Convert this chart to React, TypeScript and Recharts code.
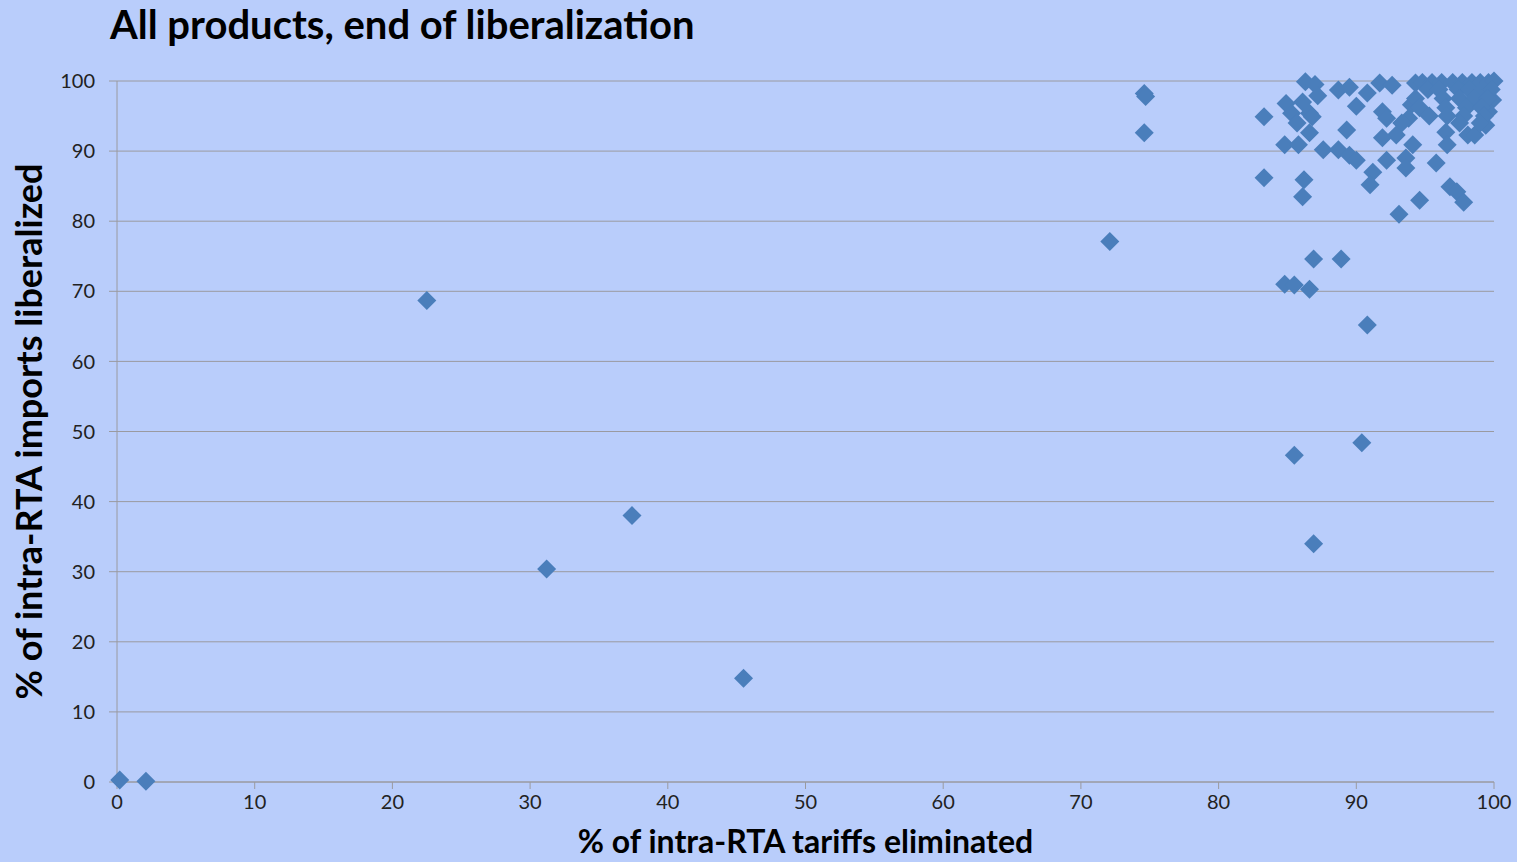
import { CartesianGrid, Scatter, ScatterChart, XAxis, YAxis } from "recharts";

// % of intra-RTA tariffs eliminated
const tariffsEliminated = [
  0.2, 2.1, 22.5, 31.2, 37.4, 45.5, 72.1, 74.6, 74.7, 74.6,
  83.3, 83.3, 84.8, 85.5, 86.6, 86.9, 88.9, 90.8, 90.4, 85.5, 86.9, 86.2, 86.1,
  86.3, 87.0, 84.9, 86.1, 87.2, 85.3, 85.7, 86.6, 86.8, 86.6, 84.8, 85.8,
  88.7, 89.5, 90.0, 89.3, 87.6, 88.7, 89.5, 90.0,
  91.7, 92.6, 90.8, 94.3, 91.9, 92.2, 94.0, 93.8, 93.3, 92.9, 91.9, 94.1,
  92.2, 93.6, 93.6, 95.8, 91.2, 91.0, 94.6, 96.8, 97.3, 97.8, 93.1,
  96.5, 96.6, 98.1, 98.6, 99.4, 99.9, 99.6,
  94.8, 95.5, 96.2, 97.0, 97.7, 98.4, 99.0, 99.6, 100,
  95.2, 96.0, 97.4, 98.2, 99.2, 99.8,
  94.3, 96.3, 97.5, 98.6, 99.5,
  94.6, 96.5, 98.0, 99.1,
  95.3, 96.6, 97.8, 99.3,
  97.5, 99.0,
];

// % of intra-RTA imports liberalized
const importsLiberalized = [
  0.3, 0.1, 68.7, 30.4, 38.0, 14.8, 77.1, 98.2, 97.8, 92.6,
  94.9, 86.2, 71.0, 70.9, 70.3, 74.6, 74.6, 65.2, 48.4, 46.6, 34.0, 85.9, 83.5,
  99.9, 99.5, 96.8, 97.0, 97.9, 95.4, 94.0, 95.4, 94.9, 92.6, 90.9, 90.9,
  98.7, 99.1, 96.4, 93.0, 90.2, 90.2, 89.4, 88.7,
  99.7, 99.4, 98.3, 99.7, 95.6, 94.7, 96.6, 94.7, 94.0, 92.3, 91.9, 90.9,
  88.7, 89.0, 87.6, 88.3, 87.0, 85.2, 83.0, 84.9, 84.2, 82.7, 81.0,
  92.7, 90.9, 92.3, 92.3, 93.7, 97.3, 95.6,
  99.8, 99.8, 99.8, 99.8, 99.8, 99.8, 99.8, 99.8, 100,
  98.8, 98.8, 98.8, 98.8, 98.8, 98.8,
  97.5, 97.5, 97.5, 97.5, 97.5,
  96.2, 96.2, 96.2, 96.2,
  95.0, 95.0, 95.0, 95.0,
  94.0, 94.0,
];

const ticks = [0, 10, 20, 30, 40, 50, 60, 70, 80, 90, 100];

const BG = "#b9cdfb";
const BLUE = "#4a7ebb";
const GRID = "#9a9aa0";

const data = tariffsEliminated.map((x, i) => ({ x, y: importsLiberalized[i] }));

function Diamond({ cx, cy }: any) {
  const r = 9.5;
  return <path d={`M${cx},${cy - r}L${cx + r},${cy}L${cx},${cy + r}L${cx - r},${cy}Z`} fill={BLUE} />;
}

export default function App() {
  return (
    <div style={{ position: "absolute", left: 0, top: 0, width: 1517, height: 862, background: BG, overflow: "hidden" }}>
      <div
        style={{
          position: "absolute",
          left: 110,
          top: 0,
          fontFamily: "Lato, 'Open Sans', sans-serif",
          fontWeight: 700,
          fontSize: 40,
          color: "#000",
          whiteSpace: "nowrap",
        }}
      >
        All products, end of liberalization
      </div>
      <ScatterChart width={1517} height={862} margin={{ top: 81, right: 23, bottom: 0, left: 17 }}>
        <CartesianGrid horizontal vertical={false} stroke={GRID} />
        <XAxis
          type="number"
          dataKey="x"
          domain={[0, 100]}
          ticks={ticks}
          height={80}
          stroke={GRID}
          tickSize={7}
          tickMargin={6}
          tick={{ fill: "#222", fontSize: 20, fontFamily: "Lato, sans-serif" }}
          label={{
            value: "% of intra-RTA tariffs eliminated",
            position: "insideBottom",
            offset: 9,
            fill: "#000",
            fontSize: 32,
            fontWeight: 700,
            fontFamily: "Lato, sans-serif",
          }}
        />
        <YAxis
          type="number"
          dataKey="y"
          domain={[0, 100]}
          ticks={ticks}
          width={100}
          stroke={GRID}
          tickSize={8}
          tickMargin={14}
          tick={{ fill: "#222", fontSize: 20, fontFamily: "Lato, sans-serif" }}
          label={{
            value: "% of intra-RTA imports liberalized",
            angle: -90,
            position: "insideLeft",
            offset: 12,
            style: { textAnchor: "middle" },
            fill: "#000",
            fontSize: 36,
            fontWeight: 700,
            fontFamily: "Lato, sans-serif",
          }}
        />
        <Scatter data={data} fill={BLUE} shape={(p: any) => <Diamond {...p} />} isAnimationActive={false} />
      </ScatterChart>
    </div>
  );
}
